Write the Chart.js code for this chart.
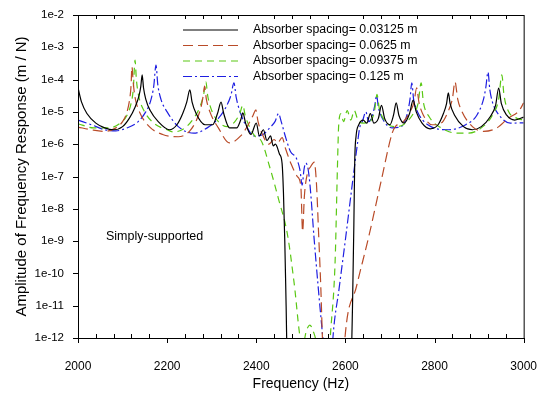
<!DOCTYPE html>
<html>
<head>
<meta charset="utf-8">
<script src="https://cdn.jsdelivr.net/npm/chart.js@4/dist/chart.umd.min.js"></script>
<style>
  body { margin: 0; background: #fff; }
</style>
</head>
<body>
<canvas id="chart" width="550" height="398"></canvas>
<script>
// absorber spacing = 0.03125 m
const freqA = [2000, 2008, 2020, 2040, 2060, 2080, 2100, 2115, 2128, 2137, 2141, 2144, 2147, 2152, 2162, 2180, 2205, 2222, 2235, 2244, 2251, 2256, 2265, 2285, 2302, 2313, 2321, 2327, 2340, 2356, 2365, 2370, 2376, 2388, 2400, 2407, 2416, 2424, 2432, 2438, 2443, 2452, 2458, 2461, 2464, 2467, 2470, 2612, 2616, 2619, 2621, 2624, 2630, 2640, 2648, 2656, 2664, 2674, 2681, 2688, 2700, 2708, 2714, 2720, 2732, 2744, 2752, 2759, 2772, 2790, 2808, 2820, 2827, 2831, 2835, 2845, 2865, 2885, 2905, 2925, 2937, 2944, 2950, 2962, 2980, 3000];
const ampA = [5.6e-5, 2.0e-5, 8.9e-6, 4.5e-6, 3.2e-6, 2.8e-6, 3.5e-6, 6.3e-6, 1.4e-5, 3.2e-5, 6.3e-5, 1.4e-4, 5.6e-5, 2.5e-5, 1.1e-5, 5.0e-6, 2.8e-6, 4.0e-6, 8.9e-6, 2.0e-5, 4.8e-5, 2.0e-5, 8.9e-6, 4.0e-6, 4.0e-6, 8.9e-6, 2.0e-5, 8.9e-6, 3.2e-6, 3.2e-6, 5.6e-6, 9.3e-6, 4.5e-6, 2.0e-6, 4.5e-6, 1.8e-6, 2.8e-6, 1.3e-6, 1.8e-6, 8.9e-7, 1.0e-6, 5.0e-7, 2.5e-7, 3.2e-8, 1e-9, 1e-11, 1e-13, 1e-13, 1e-11, 3.2e-9, 3.2e-7, 1.8e-6, 4.0e-6, 5.6e-6, 4.5e-6, 8.9e-6, 4.5e-6, 6.3e-6, 1.6e-5, 6.3e-6, 4.0e-6, 7.9e-6, 1.9e-5, 7.9e-6, 4.5e-6, 8.9e-6, 2.3e-5, 1.0e-5, 4.5e-6, 3.0e-6, 4.0e-6, 8.9e-6, 1.8e-5, 3.9e-5, 1.8e-5, 7.9e-6, 3.5e-6, 2.8e-6, 3.5e-6, 7.1e-6, 1.6e-5, 5.5e-5, 1.8e-5, 7.9e-6, 5.6e-6, 6.9e-6];

// absorber spacing = 0.0625 m
const freqB = [2000, 2030, 2060, 2085, 2100, 2110, 2116, 2119, 2121, 2124, 2128, 2138, 2160, 2190, 2225, 2250, 2266, 2276, 2281, 2284, 2288, 2296, 2315, 2340, 2365, 2382, 2393, 2399, 2404, 2414, 2428, 2440, 2448, 2458, 2466, 2478, 2492, 2500, 2504, 2508, 2515, 2522, 2530, 2535, 2540, 2545, 2549, 2553, 2595, 2599, 2625, 2652, 2680, 2705, 2712, 2730, 2745, 2754, 2760, 2765, 2775, 2795, 2815, 2830, 2840, 2846, 2852, 2862, 2885, 2910, 2940, 2965, 2990, 3000];
const ampB = [3.4e-6, 2.8e-6, 2.5e-6, 3.2e-6, 5.0e-6, 1.0e-5, 2.5e-5, 6.3e-5, 2.5e-4, 7.9e-5, 2.8e-5, 1.0e-5, 3.5e-6, 2.0e-6, 1.7e-6, 2.5e-6, 5.6e-6, 1.4e-5, 3.2e-5, 6.3e-5, 2.5e-5, 1.0e-5, 3.2e-6, 1.1e-6, 1.8e-6, 4.0e-6, 7.9e-6, 1.15e-5, 5.0e-6, 2.0e-6, 1.0e-6, 1.4e-6, 1.1e-6, 1.6e-6, 7.1e-7, 2.5e-7, 1.0e-7, 5.0e-8, 2.0e-9, 2.5e-8, 1.3e-7, 2.0e-7, 2.8e-7, 6.3e-8, 1.6e-9, 3.2e-11, 6.3e-13, 1e-13, 1e-13, 1e-12, 4.0e-11, 1.3e-9, 7.0e-8, 2.2e-6, 3.5e-6, 5.0e-6, 1.0e-5, 2.0e-5, 5.6e-5, 2.0e-5, 7.9e-6, 4.0e-6, 4.5e-6, 1.0e-5, 2.5e-5, 8.5e-5, 2.5e-5, 1.0e-5, 3.5e-6, 2.5e-6, 3.2e-6, 6.3e-6, 1.1e-5, 1.9e-5];

// absorber spacing = 0.09375 m
const freqC = [2000, 2035, 2070, 2095, 2110, 2119, 2124, 2128, 2131, 2136, 2148, 2170, 2200, 2215, 2240, 2262, 2275, 2282, 2287, 2291, 2300, 2315, 2335, 2352, 2363, 2370, 2375, 2386, 2400, 2410, 2430, 2450, 2470, 2485, 2500, 2505, 2512, 2520, 2528, 2535, 2540, 2562, 2566, 2577, 2582, 2585, 2590, 2596, 2604, 2612, 2620, 2628, 2640, 2655, 2665, 2671, 2676, 2690, 2710, 2730, 2750, 2763, 2770, 2775, 2788, 2815, 2850, 2876, 2905, 2930, 2944, 2951, 2956, 2965, 2985, 3000];
const ampC = [4.3e-6, 3.2e-6, 3.2e-6, 4.5e-6, 7.9e-6, 1.8e-5, 5.0e-5, 4.0e-4, 1.0e-4, 3.2e-5, 1.1e-5, 4.5e-6, 2.8e-6, 2.4e-6, 3.2e-6, 7.1e-6, 1.6e-5, 3.5e-5, 8.5e-5, 3.2e-5, 1.1e-5, 5.0e-6, 3.5e-6, 5.0e-6, 8.9e-6, 1.6e-5, 7.9e-6, 3.2e-6, 1.6e-6, 1.35e-6, 2.0e-7, 2.0e-8, 1.6e-9, 5.0e-11, 7.9e-13, 6.3e-13, 1.6e-12, 2.5e-12, 1.6e-12, 6.3e-13, 1e-13, 1e-13, 1e-12, 2.5e-10, 1.6e-7, 4.0e-6, 8.9e-6, 5.0e-6, 1.1e-5, 5.6e-6, 1.1e-5, 5.6e-6, 4.5e-6, 5.0e-6, 1.0e-5, 3.5e-5, 1.3e-5, 5.0e-6, 3.5e-6, 4.0e-6, 7.9e-6, 1.8e-5, 7.9e-5, 2.0e-5, 7.1e-6, 3.2e-6, 2.2e-6, 2.2e-6, 3.2e-6, 7.9e-6, 2.5e-5, 1.4e-4, 3.2e-5, 1.1e-5, 6.3e-6, 5.6e-6];

// absorber spacing = 0.125 m
const freqD = [2000, 2030, 2060, 2085, 2110, 2135, 2152, 2163, 2170, 2175, 2179, 2186, 2200, 2225, 2260, 2290, 2315, 2332, 2343, 2350, 2355, 2365, 2380, 2395, 2415, 2430, 2442, 2450, 2456, 2465, 2477, 2490, 2498, 2503, 2507, 2511, 2516, 2521, 2530, 2548, 2551, 2555, 2568, 2572, 2586, 2600, 2614, 2628, 2632, 2638, 2646, 2652, 2660, 2666, 2670, 2674, 2685, 2705, 2725, 2738, 2745, 2749, 2753, 2762, 2785, 2831, 2870, 2895, 2910, 2915, 2920, 2924, 2930, 2945, 2970, 3000];
const ampD = [5.6e-6, 4.0e-6, 2.8e-6, 2.6e-6, 3.2e-6, 5.0e-6, 1.0e-5, 2.2e-5, 6.3e-5, 2.8e-4, 7.1e-5, 2.5e-5, 1.0e-5, 3.5e-6, 2.2e-6, 3.2e-6, 6.3e-6, 1.4e-5, 3.2e-5, 7.9e-5, 2.8e-5, 8.9e-6, 3.2e-6, 1.8e-6, 2.0e-6, 3.2e-6, 5.0e-6, 8.9e-6, 5.0e-6, 1.8e-6, 5.8e-7, 3.7e-7, 1.6e-7, 5.4e-8, 1.6e-7, 2.6e-7, 1.8e-7, 4.7e-8, 1.1e-9, 1.6e-12, 6.3e-13, 1e-13, 1e-13, 1e-12, 3.5e-11, 1.1e-9, 4.0e-8, 1.3e-6, 3.2e-6, 5.0e-6, 1.0e-5, 5.0e-6, 7.1e-6, 1.6e-5, 3.2e-5, 1.4e-5, 5.6e-6, 3.2e-6, 3.5e-6, 7.9e-6, 2.5e-5, 7.9e-5, 2.5e-5, 1.0e-5, 4.0e-6, 2.8e-6, 4.0e-6, 7.9e-6, 2.5e-5, 5.6e-5, 1.7e-4, 5.0e-5, 2.0e-5, 7.9e-6, 4.5e-6, 4.6e-6];

const seriesLabels = ['Absorber spacing= 0.03125 m', 'Absorber spacing= 0.0625 m', 'Absorber spacing= 0.09375 m', 'Absorber spacing= 0.125 m'];
const yTickValues = [1e-2, 1e-3, 1e-4, 1e-5, 1e-6, 1e-7, 1e-8, 1e-9, 1e-10, 1e-11, 1e-12];
const noteText = 'Simply-supported';

const FONT = '"Liberation Sans", Arial, sans-serif';

function pts(xs, ys) {
  return xs.map((f, i) => ({x: f, y: ys[i]}));
}

// box frame, inward/outward ticks, in-plot legend and note
const decorations = {
  id: 'decorations',
  afterDatasetsDraw(chart) {
    const {ctx, chartArea: a, scales: {x, y}} = chart;
    ctx.save();
    ctx.strokeStyle = '#000';
    ctx.lineWidth = 1;
    ctx.setLineDash([]);
    ctx.strokeRect(a.left + 0.5, a.top + 0.5, a.right - a.left, a.bottom - a.top);

    ctx.beginPath();
    for (let v = 2000; v <= 3000; v += 40) {
      const px = Math.round(x.getPixelForValue(v)) + 0.5;
      if (v % 200 === 0) {
        ctx.moveTo(px, a.bottom);
        ctx.lineTo(px, a.bottom + 5);
      } else {
        ctx.moveTo(px, a.bottom);
        ctx.lineTo(px, a.bottom - 4);
        ctx.moveTo(px, a.top);
        ctx.lineTo(px, a.top + 4);
      }
    }
    yTickValues.forEach(v => {
      const py = Math.round(y.getPixelForValue(v)) + 0.5;
      ctx.moveTo(a.left - 5, py);
      ctx.lineTo(a.left, py);
    });
    ctx.stroke();

    // legend inside plot
    const rowY = [30, 45.5, 61, 76.5];
    ctx.font = '12.3px ' + FONT;
    ctx.textBaseline = 'middle';
    ctx.fillStyle = '#000';
    chart.data.datasets.forEach((ds, i) => {
      ctx.strokeStyle = ds.borderColor;
      ctx.lineWidth = ds.borderWidth;
      ctx.setLineDash(ds.borderDash || []);
      ctx.beginPath();
      ctx.moveTo(183, rowY[i]);
      ctx.lineTo(238, rowY[i]);
      ctx.stroke();
      ctx.fillText(ds.label, 253, rowY[i]);
    });

    ctx.font = '12.5px ' + FONT;
    ctx.fillText(noteText, 106, 237);
    ctx.restore();
  }
};

new Chart(document.getElementById('chart'), {
  type: 'line',
  data: {
    datasets: [
      { label: seriesLabels[0], data: pts(freqA, ampA), borderColor: '#000000', borderWidth: 1.2 },
      { label: seriesLabels[1], data: pts(freqB, ampB), borderColor: 'rgb(185,75,40)', borderWidth: 1.2, borderDash: [10, 5] },
      { label: seriesLabels[2], data: pts(freqC, ampC), borderColor: 'rgb(90,200,20)', borderWidth: 1.2, borderDash: [7, 5] },
      { label: seriesLabels[3], data: pts(freqD, ampD), borderColor: 'rgb(30,30,225)', borderWidth: 1.2, borderDash: [9, 3, 2, 3] }
    ]
  },
  options: {
    responsive: false,
    animation: false,
    layout: { padding: { top: 15, right: 21, left: 0, bottom: 0 } },
    elements: { point: { radius: 0 }, line: { cubicInterpolationMode: 'monotone', fill: false } },
    plugins: { legend: { display: false }, tooltip: { enabled: false } },
    scales: {
      x: {
        type: 'linear',
        min: 2000,
        max: 3000,
        grid: { display: false },
        border: { display: false },
        ticks: { stepSize: 200, padding: 13, color: '#000', font: { family: FONT, size: 12 }, callback: v => String(v) },
        title: { display: true, text: 'Frequency (Hz)', color: '#000', font: { family: FONT, size: 14 }, padding: { top: 0, bottom: 5 } },
        afterFit: s => { s.height = 60; }
      },
      y: {
        type: 'logarithmic',
        min: 1e-12,
        max: 1e-2,
        grid: { display: false },
        border: { display: false },
        afterBuildTicks: s => { s.ticks = yTickValues.map(v => ({ value: v })); },
        ticks: {
          padding: 6,
          autoSkip: false,
          color: '#000',
          font: { family: FONT, size: 11.5 },
          callback: v => '1e' + Math.round(Math.log10(v))
        },
        title: { display: true, text: 'Amplitude of Frequency Response (m / N)', color: '#000', font: { family: FONT, size: 15 }, padding: { top: 13, bottom: 0 } },
        afterFit: s => { s.width = 78; }
      }
    }
  },
  plugins: [decorations]
});
</script>
</body>
</html>
